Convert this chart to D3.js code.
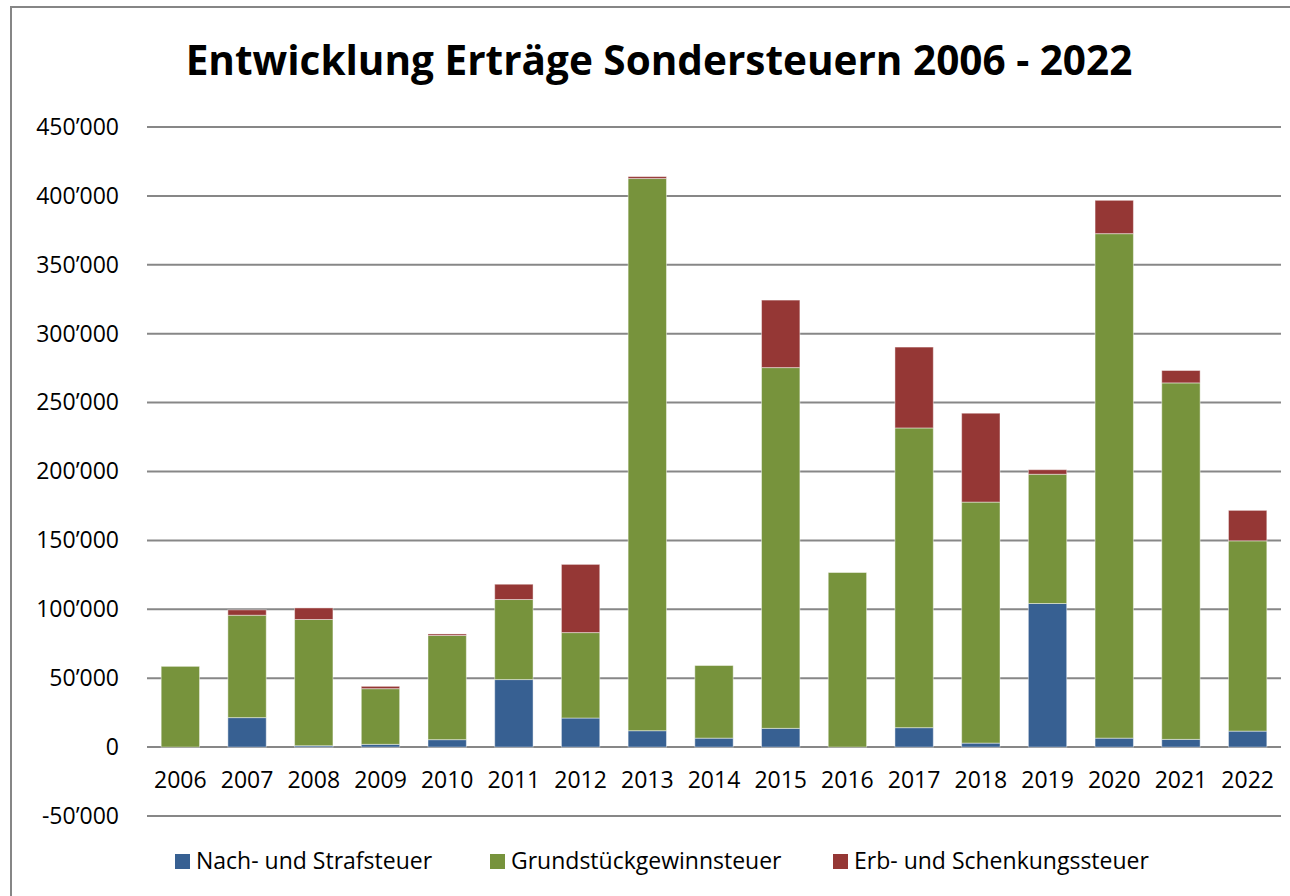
<!DOCTYPE html>
<html>
<head>
<meta charset="utf-8">
<script src="https://cdn.jsdelivr.net/npm/d3@7"></script>
<style>
  body { margin: 0; background: #fff; }
  text { font-family: "Open Sans", sans-serif; fill: #000; }
</style>
</head>
<body>
<script>
var years = ["2006", "2007", "2008", "2009", "2010", "2011", "2012", "2013", "2014",
             "2015", "2016", "2017", "2018", "2019", "2020", "2021", "2022"];

// values in CHF
var nachStraf = [0, 21400, 1000, 2000, 5400, 49000, 21100, 11900, 6500,
                 13600, 0, 14100, 2900, 104200, 6500, 5600, 11600];
var grundstueck = [58600, 74300, 91600, 40400, 75600, 58100, 62000, 400700, 52700,
                   261800, 126700, 217500, 174900, 93800, 366100, 258700, 138100];
var erbSchenkung = [0, 3900, 8400, 1700, 1100, 11100, 49500, 1400, 0,
                    49000, 0, 58700, 64500, 3300, 24200, 9000, 22100];

var seriesNames = ["Nach- und Strafsteuer", "Grundstückgewinnsteuer", "Erb- und Schenkungssteuer"];
var seriesColors = ["#376092", "#77933c", "#953735"];
var yTicks = [-50000, 0, 50000, 100000, 150000, 200000, 250000, 300000, 350000, 400000, 450000];

var W = 1290, H = 896;
var margin = { top: 127, right: 9, bottom: 80, left: 147 },
    width = W - margin.left - margin.right,
    height = 816 - margin.top;

var svg = d3.select("body").append("svg")
    .attr("width", W)
    .attr("height", H);

// chart frame (runs off the right and bottom edge)
svg.append("rect")
    .attr("x", 11).attr("y", 7)
    .attr("width", W + 20).attr("height", H + 20)
    .attr("fill", "#fff")
    .attr("stroke", "#868686")
    .attr("stroke-width", 2);

svg.append("text")
    .attr("x", 659)
    .attr("y", 75)
    .attr("text-anchor", "middle")
    .style("font-size", "40.5px")
    .style("font-weight", "bold")
    .text("Entwicklung Erträge Sondersteuern 2006 - 2022");

var g = svg.append("g").attr("transform", "translate(" + margin.left + "," + margin.top + ")");

var x = d3.scaleBand().domain(years).range([0, width]).paddingInner(0.425).paddingOuter(0.2125);
var y = d3.scaleLinear().domain([-50000, 450000]).range([height, 0]);

var fmt = function (v) {
    var s = d3.format(",")(v).replace(/,/g, "\u2019");
    return s.replace("\u2212", "-");
};

// gridlines
g.selectAll(".grid")
    .data(yTicks)
    .enter().append("line")
    .attr("x1", 0).attr("x2", width)
    .attr("y1", function (d) { return y(d); })
    .attr("y2", function (d) { return y(d); })
    .attr("stroke", "#878787")
    .attr("stroke-width", 2);

// y axis labels
var yAxis = g.append("g")
    .call(d3.axisLeft(y).tickValues(yTicks).tickSize(0).tickPadding(28).tickFormat(fmt));
yAxis.select(".domain").remove();
yAxis.selectAll("text")
    .style("font-family", "'Open Sans', sans-serif")
    .style("font-size", "23px")
    .attr("fill", "#000");

// x axis labels under the zero line
var xAxis = g.append("g")
    .attr("transform", "translate(0," + y(0) + ")")
    .call(d3.axisBottom(x).tickSize(0).tickPadding(25));
xAxis.select(".domain").remove();
xAxis.selectAll("text")
    .style("font-family", "'Open Sans', sans-serif")
    .style("font-size", "23px")
    .attr("fill", "#000");

// stacked bars
var rows = years.map(function (yr, i) {
    return { year: yr, a: nachStraf[i], b: grundstueck[i], c: erbSchenkung[i] };
});
var stack = d3.stack().keys(["a", "b", "c"]);
var layers = stack(rows);

g.selectAll(".layer")
    .data(layers)
    .enter().append("g")
    .attr("fill", function (d, i) { return seriesColors[i]; })
    .selectAll("rect")
    .data(function (d) { return d; })
    .enter().append("rect")
    .attr("x", function (d) { return x(d.data.year); })
    .attr("y", function (d) { return y(d[1]); })
    .attr("width", x.bandwidth())
    .attr("height", function (d) { return Math.max(0, y(d[0]) - y(d[1])); })
    .attr("stroke", function (d) { return d[1] - d[0] > 0 ? "rgba(255,255,255,0.45)" : "none"; })
    .attr("stroke-width", 1);

// legend
var legendX = [175, 490, 833];
var legend = svg.selectAll(".legend")
    .data(seriesNames)
    .enter().append("g")
    .attr("transform", function (d, i) { return "translate(" + legendX[i] + ",854)"; });
legend.append("rect")
    .attr("width", 15).attr("height", 15)
    .attr("fill", function (d, i) { return seriesColors[i]; });
legend.append("text")
    .attr("x", 21)
    .attr("y", 15)
    .style("font-size", "23px")
    .text(function (d) { return d; });
</script>
</body>
</html>
